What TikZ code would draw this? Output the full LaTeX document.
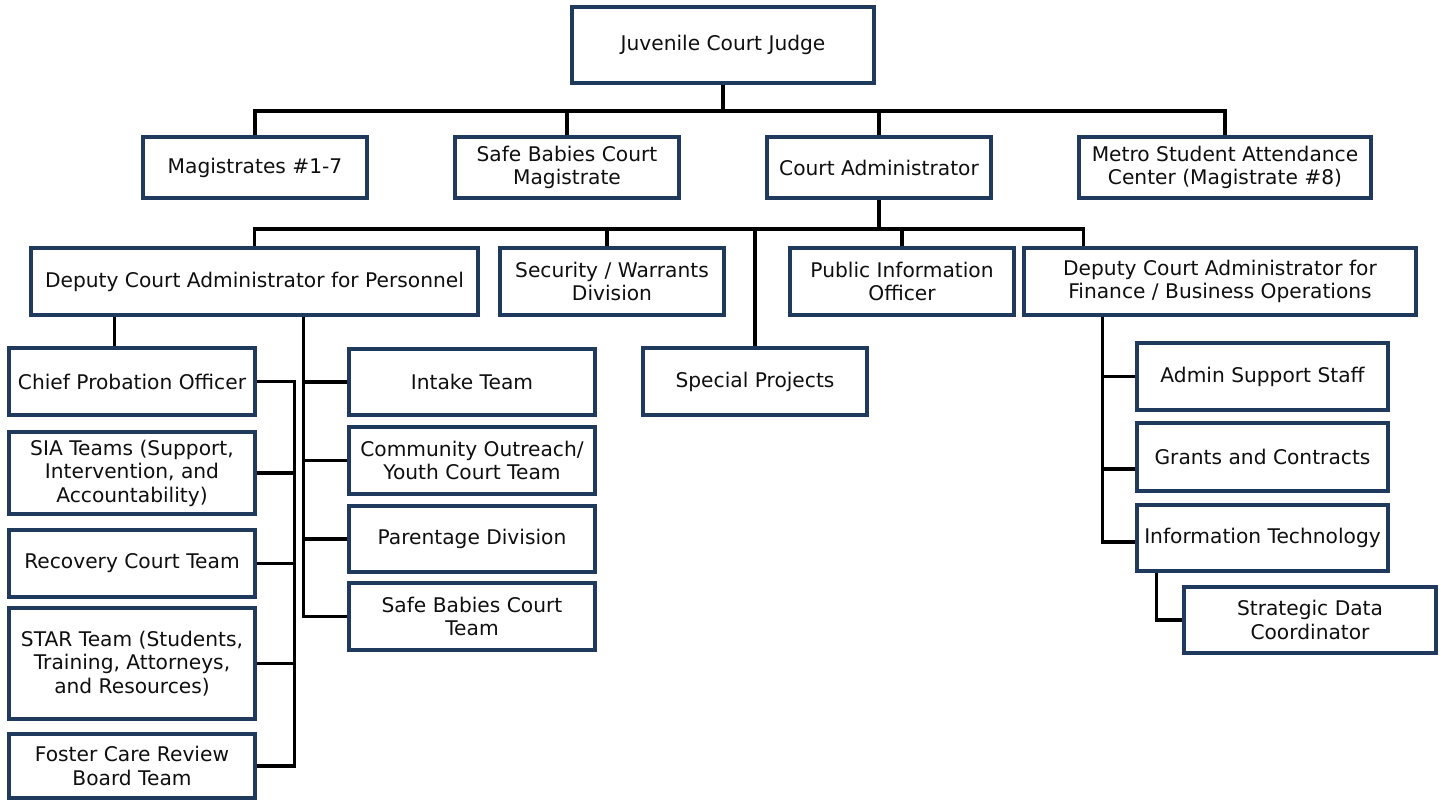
\documentclass[tikz,border=0pt]{standalone}
\usepackage{fontspec}
\setmainfont{DejaVu Sans}
\definecolor{boxline}{HTML}{1F3A5C}
\definecolor{txt}{HTML}{0F0F0F}
\begin{document}
\begin{tikzpicture}[x=1pt,y=-1pt,
  box/.style={draw=boxline, line width=3.2pt, fill=white, align=center, inner sep=0pt,
    text=txt, font=\fontsize{20.2}{23.5}\selectfont},
  conn/.style={draw=black, line width=3.2pt}]
\useasboundingbox (0,0) rectangle (1443,800);
% row 1
\node[box, minimum width=302, minimum height=76] (judge) at (723,45) {Juvenile Court Judge};
% row 2
\node[box, minimum width=224, minimum height=61] (mag) at (255,167.5) {Magistrates \#1-7};
\node[box, minimum width=224, minimum height=61] (sbm) at (567,167.5) {Safe Babies Court\\Magistrate};
\node[box, minimum width=224, minimum height=61] (cadm) at (879,167.5) {Court Administrator};
\node[box, minimum width=292, minimum height=61] (metro) at (1225,167.5) {Metro Student Attendance\\Center (Magistrate \#8)};
% row 3
\node[box, minimum width=447, minimum height=67] (dpers) at (254.5,281.5) {Deputy Court Administrator for Personnel};
\node[box, minimum width=224, minimum height=67] (sec) at (612,281.5) {Security / Warrants\\Division};
\node[box, minimum width=224, minimum height=67] (pio) at (902,281.5) {Public Information\\Officer};
\node[box, minimum width=392, minimum height=67] (dfin) at (1220,281.5) {Deputy Court Administrator for\\Finance / Business Operations};
\node[box, minimum width=224, minimum height=67] (spec) at (755,381.5) {Special Projects};
% left column
\node[box, minimum width=246, minimum height=67] (cpo) at (132,381.5) {Chief Probation Officer};
\node[box, minimum width=246, minimum height=82] (sia) at (132,473) {SIA Teams (Support,\\Intervention, and\\Accountability)};
\node[box, minimum width=246, minimum height=67] (rec) at (132,563.5) {Recovery Court Team};
\node[box, minimum width=246, minimum height=111] (star) at (132,663.5) {STAR Team (Students,\\Training, Attorneys,\\and Resources)};
\node[box, minimum width=246, minimum height=64] (foster) at (132,766) {Foster Care Review\\Board Team};
% middle column
\node[box, minimum width=246, minimum height=66] (intake) at (472,382) {Intake Team};
\node[box, minimum width=246, minimum height=67] (comm) at (472,460.5) {Community Outreach/\\Youth Court Team};
\node[box, minimum width=246, minimum height=66] (par) at (472,539) {Parentage Division};
\node[box, minimum width=246, minimum height=67] (sbt) at (472,616.5) {Safe Babies Court\\Team};
% right column
\node[box, minimum width=251, minimum height=67] (admin) at (1262.5,376.5) {Admin Support Staff};
\node[box, minimum width=251, minimum height=68] (grants) at (1262.5,457) {Grants and Contracts};
\node[box, minimum width=251, minimum height=66] (it) at (1262.5,538) {Information Technology};
\node[box, minimum width=252, minimum height=66] (sdc) at (1310,620) {Strategic Data\\Coordinator};
% bus coordinates
\coordinate (b1) at (0,111);
\coordinate (b2) at (0,229);
\coordinate (dfinTop) at ([xshift=61pt]dfin.north west);
\coordinate (secTop) at ([xshift=-5pt]sec.north);
\coordinate (cpoDrop) at ([xshift=85pt]dpers.south west);
\coordinate (p2) at ([xshift=274pt]dpers.south west);
\coordinate (lb) at ([xshift=38pt]cpo.east);
\coordinate (rb) at ([xshift=80pt]dfin.south west);
\coordinate (itDrop) at ([xshift=21pt]it.south west);
% level 1 -> 2
\draw[conn] (judge.south) -- (judge.south |- b1);
\draw[conn] (mag.north) -- (mag.north |- b1) -| (metro.north);
\draw[conn] (sbm.north) -- (sbm.north |- b1);
\draw[conn] (cadm.north) -- (cadm.north |- b1);
% level 2 -> 3
\draw[conn] (cadm.south) -- (cadm.south |- b2);
\draw[conn] (dpers.north) -- (dpers.north |- b2) -| (dfinTop);
\draw[conn] (secTop) -- (secTop |- b2);
\draw[conn] (pio.north) -- (pio.north |- b2);
\draw[conn] (spec.north) -- (spec.north |- b2);
% personnel subtree
\draw[conn] (cpoDrop) -- (cpoDrop |- cpo.north);
\draw[conn] (p2) |- (sbt.west);
\draw[conn] (intake.west) -- (intake.west -| p2);
\draw[conn] (comm.west) -- (comm.west -| p2);
\draw[conn] (par.west) -- (par.west -| p2);
% probation bracket
\draw[conn] (cpo.east) -- (lb) |- (foster.east);
\draw[conn] (sia.east) -- (sia.east -| lb);
\draw[conn] (rec.east) -- (rec.east -| lb);
\draw[conn] (star.east) -- (star.east -| lb);
% finance subtree
\draw[conn] (rb) |- ([yshift=-4pt]it.west);
\draw[conn] (admin.west) -- (admin.west -| rb);
\draw[conn] ([yshift=-12pt]grants.west) -- ([yshift=-12pt]grants.west -| rb);
\draw[conn] (itDrop) |- (sdc.west);
\end{tikzpicture}
\end{document}
